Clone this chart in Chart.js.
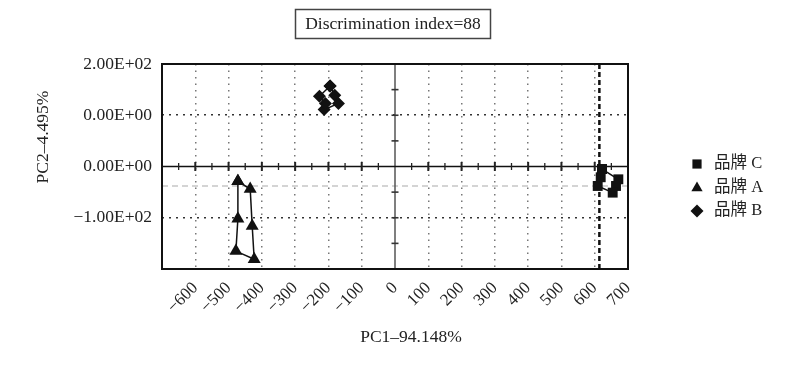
<!DOCTYPE html>
<html><head><meta charset="utf-8">
<script src="https://cdn.jsdelivr.net/npm/chart.js@4.4.0/dist/chart.umd.min.js"></script>
<style>html,body{margin:0;padding:0;background:#fff;}#wrap{width:800px;height:384px;position:relative;}</style>
</head><body><div id="wrap"><canvas id="c"></canvas></div>
<script>
// ---- data ----
const chartTitle = 'Discrimination index=88';
const xAxisTitle = 'PC1–94.148%';
const yAxisTitle = 'PC2–4.495%';
const seriesNames = ['品牌 C', '品牌 A', '品牌 B'];
const seriesStyles = ['rect', 'triangle', 'rectRot'];
// polygons (first point repeated to close the outline)
const brandC_x = [622, 671, 664, 654, 609, 618, 622];
const brandC_y = [-5, -25, -38, -51, -38, -21, -5];
const brandA_x = [-472, -435, -429, -423, -478, -472, -472];
const brandA_y = [-29, -44, -116, -181, -165, -102, -29];
const brandB_x = [-195, -181, -170, -213, -209, -227, -195];
const brandB_y = [157, 139, 123, 111, 123, 137, 157];
const xTickValues = [-700, -600, -500, -400, -300, -200, -100, 0, 100, 200, 300, 400, 500, 600, 700];
const xTickLabels = ['', '−600', '−500', '−400', '−300', '−200', '−100', '0', '100', '200', '300', '400', '500', '600', '700'];
const yTickValues = [-200, -100, 0, 100, 200];
const yTickLabels = ['', '−1.00E+02', '0.00E+00', '0.00E+00', '2.00E+02'];
const xZeroMarks = [-650, -600, -550, -500, -450, -400, -350, -300, -250, -200, -150, -100, -50, 50, 100, 150, 200, 250, 300, 350, 400, 450, 500, 550, 600, 650];
const yZeroMarks = [-150, -100, -50, 50, 100, 150];
const refLineY = -38;
const refLineX = 614;

const serif = '"Liberation Serif", "Noto Sans CJK SC", serif';

function pts(xs, ys) { return xs.map((v, i) => ({ x: v, y: ys[i] })); }

const decor = {
  id: 'decor',
  beforeDatasetsDraw(chart) {
    const { ctx, chartArea: a, scales: { x, y } } = chart;
    const line = (x1, y1, x2, y2) => { ctx.beginPath(); ctx.moveTo(x1, y1); ctx.lineTo(x2, y2); ctx.stroke(); };
    ctx.save();
    const yd = y.getPixelForValue(refLineY);
    ctx.strokeStyle = '#aaa'; ctx.lineWidth = 1.2; ctx.setLineDash([6, 4]);
    line(a.left, yd, a.right, yd);
    const xb = x.getPixelForValue(refLineX);
    ctx.strokeStyle = '#111'; ctx.lineWidth = 2.5; ctx.setLineDash([5, 3]);
    line(xb, a.top, xb, a.bottom);
    ctx.setLineDash([]);
    const x0 = x.getPixelForValue(0), y0 = y.getPixelForValue(0);
    ctx.strokeStyle = '#555'; ctx.lineWidth = 1.5;
    line(x0, a.top, x0, a.bottom);
    ctx.strokeStyle = '#111'; ctx.lineWidth = 1.5;
    line(a.left, y0, a.right, y0);
    ctx.strokeStyle = '#222';
    xZeroMarks.forEach(v => {
      const px = x.getPixelForValue(v);
      const h = (v % 100 === 0) ? 4.5 : 3.5;
      ctx.lineWidth = (v % 100 === 0) ? 2 : 1.3;
      line(px, y0 - h, px, y0 + h);
    });
    ctx.strokeStyle = '#333'; ctx.lineWidth = 1.6;
    yZeroMarks.forEach(v => {
      const py = y.getPixelForValue(v);
      line(x0 - 3.5, py, x0 + 3.5, py);
    });
    ctx.restore();
  },
  afterDraw(chart) {
    const { ctx, chartArea: a } = chart;
    ctx.save();
    ctx.strokeStyle = '#111'; ctx.lineWidth = 2;
    ctx.strokeRect(a.left, a.top, a.right - a.left, a.bottom - a.top);
    ctx.font = '17.5px ' + serif;
    ctx.fillStyle = '#222'; ctx.textAlign = 'center'; ctx.textBaseline = 'middle';
    ctx.fillText(chartTitle, 393, 24);
    ctx.strokeStyle = '#444'; ctx.lineWidth = 1.5;
    ctx.strokeRect(295.5, 9.5, 195, 29);
    ctx.font = '17.5px ' + serif;
    ctx.fillText(xAxisTitle, 411, 337);
    ctx.save();
    ctx.translate(43, 137); ctx.rotate(-Math.PI / 2);
    ctx.fillText(yAxisTitle, 0, 0);
    ctx.restore();
    const ly = [164, 188, 211];
    seriesNames.forEach((n, i) => {
      ctx.fillStyle = '#111'; ctx.strokeStyle = '#111';
      Chart.helpers.drawPoint(ctx, { pointStyle: seriesStyles[i], radius: 6.5, rotation: 0, borderWidth: 0 }, 697, ly[i]);
      ctx.fillStyle = '#222'; ctx.textAlign = 'left'; ctx.textBaseline = 'middle';
      ctx.font = '16.5px ' + serif;
      ctx.fillText(n, 714, ly[i]);
    });
    ctx.restore();
  }
};

const ds = (label, xs, ys, style, r) => ({
  label, data: pts(xs, ys), showLine: true, fill: false,
  borderColor: '#111', borderWidth: 1.5, backgroundColor: '#111',
  pointStyle: style, pointRadius: r, pointBackgroundColor: '#111', pointBorderColor: '#111', pointBorderWidth: 0
});

new Chart(document.getElementById('c'), {
  type: 'scatter',
  data: {
    datasets: [
      ds(seriesNames[0], brandC_x, brandC_y, 'rect', 7),
      ds(seriesNames[1], brandA_x, brandA_y, 'triangle', 7.5),
      ds(seriesNames[2], brandB_x, brandB_y, 'rectRot', 6.5)
    ]
  },
  options: {
    responsive: true, maintainAspectRatio: false, animation: false,
    layout: { padding: { top: 64, right: 172, left: 0, bottom: 0 } },
    plugins: { legend: { display: false }, tooltip: { enabled: false } },
    scales: {
      x: {
        type: 'linear', min: -700, max: 700,
        afterBuildTicks: s => { s.ticks = xTickValues.map(v => ({ value: v })); },
        afterFit: s => { s.height = 115; },
        border: { display: false, dash: [1.5, 5] },
        grid: {
          drawTicks: false, lineWidth: 1.5,
          color: c => (c.tick && (c.tick.value === 0 || Math.abs(c.tick.value) === 700)) ? 'rgba(0,0,0,0)' : '#777'
        },
        ticks: {
          autoSkip: false, minRotation: 45, maxRotation: 45, padding: 9, color: '#222',
          font: { family: serif, size: 17 },
          callback: (v) => { const i = xTickValues.indexOf(v); return i >= 0 ? xTickLabels[i] : ''; }
        }
      },
      y: {
        type: 'linear', min: -200, max: 200,
        afterBuildTicks: s => { s.ticks = yTickValues.map(v => ({ value: v })); },
        afterFit: s => { s.width = 162; },
        border: { display: false, dash: [2, 5] },
        grid: {
          drawTicks: false, lineWidth: 1.6,
          color: c => (c.tick && Math.abs(c.tick.value) === 100) ? '#333' : 'rgba(0,0,0,0)'
        },
        ticks: {
          padding: 10, color: '#222',
          font: { family: serif, size: 17.5 },
          callback: (v) => { const i = yTickValues.indexOf(v); return i >= 0 ? yTickLabels[i] : ''; }
        }
      }
    }
  },
  plugins: [decor]
});
</script>
</body></html>
